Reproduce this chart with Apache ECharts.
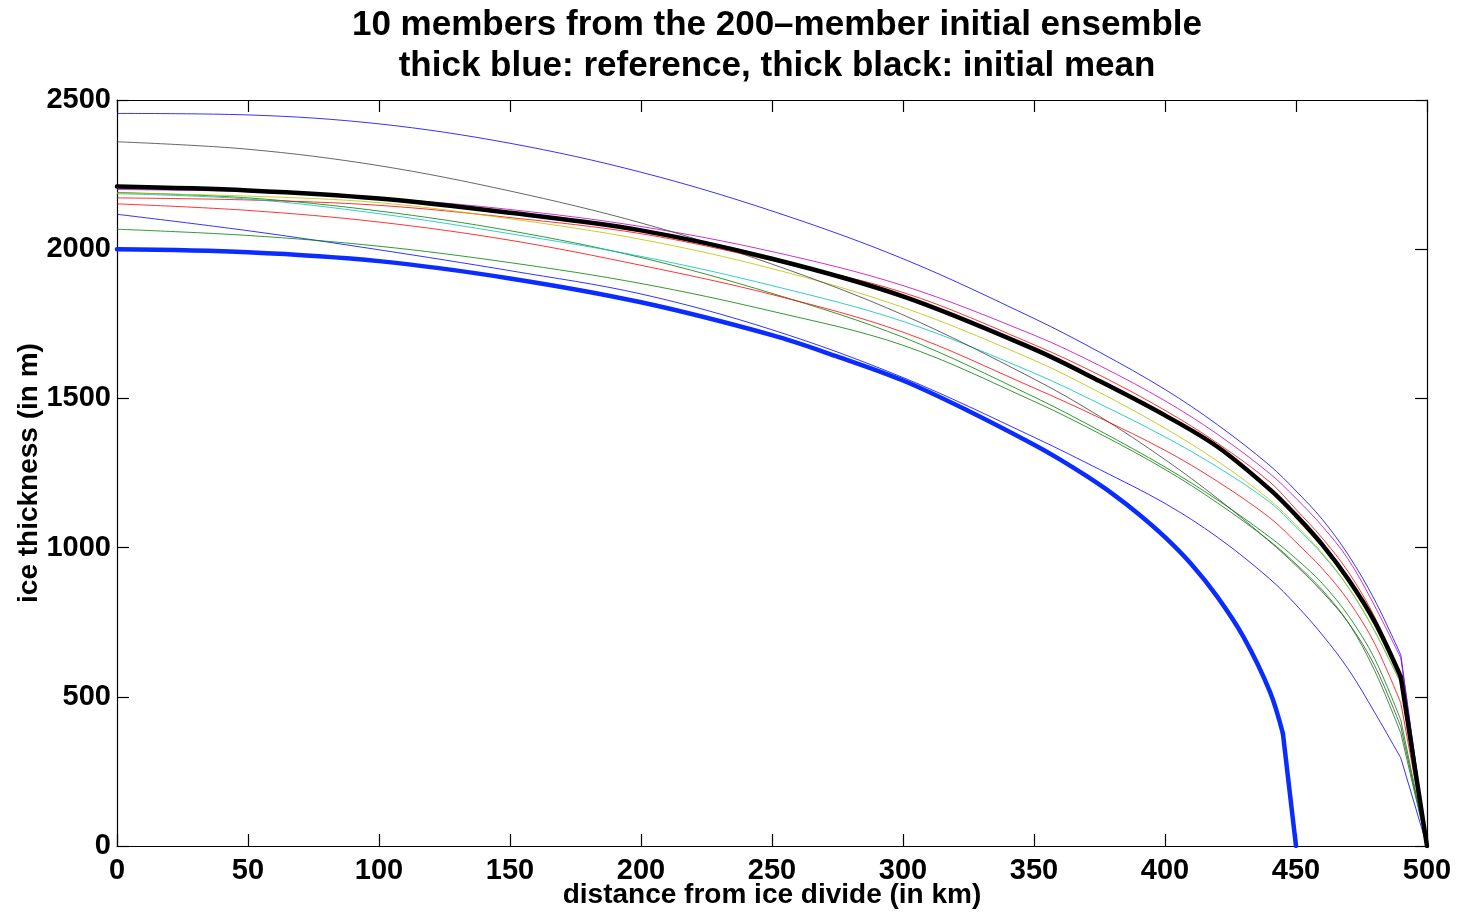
<!DOCTYPE html>
<html>
<head>
<meta charset="utf-8">
<script src="https://cdn.jsdelivr.net/npm/echarts@6/dist/echarts.min.js"></script>
<style>
  html, body { margin: 0; padding: 0; background: #fff; }
  #chart { width: 1458px; height: 912px; }
</style>
</head>
<body>
<div id="chart"></div>
<script>
// Distance from the ice divide (km) at which each ensemble member is sampled
const memberKm = [0, 50, 100, 150, 200, 250, 300, 350, 375, 400, 420, 440, 450, 460, 470, 480, 490, 500];

// Ice thickness (m) of the ten ensemble members
const memberBlue1    = [2455, 2450, 2420, 2355, 2258, 2128, 1968, 1768, 1655, 1530, 1412, 1275, 1190, 1095, 975, 825, 640, 0];
const memberGreen1   = [2190, 2172, 2128, 2062, 1972, 1852, 1705, 1505, 1392, 1270, 1160, 1035, 963, 880, 772, 628, 422, 0];
const memberRed1     = [2172, 2165, 2147, 2106, 2052, 1962, 1855, 1680, 1578, 1460, 1350, 1220, 1128, 1032, 918, 768, 572, 0];
const memberCyan     = [2186, 2168, 2119, 2052, 1976, 1878, 1758, 1585, 1482, 1371, 1270, 1152, 1068, 978, 866, 720, 545, 0];
const memberMagenta  = [2200, 2193, 2172, 2133, 2076, 1992, 1878, 1712, 1610, 1492, 1380, 1248, 1165, 1072, 960, 805, 630, 0];
const memberYellow   = [2188, 2178, 2156, 2102, 2033, 1935, 1805, 1628, 1520, 1400, 1290, 1160, 1075, 982, 868, 722, 545, 0];
const memberGray     = [2360, 2335, 2280, 2195, 2088, 1950, 1780, 1565, 1440, 1295, 1165, 1020, 940, 852, 748, 605, 400, 0];
const memberBlue2    = [2117, 2062, 1998, 1928, 1850, 1730, 1570, 1370, 1262, 1148, 1035, 895, 808, 708, 592, 448, 295, 0];
const memberGreen2   = [2067, 2046, 2010, 1955, 1885, 1792, 1678, 1490, 1382, 1262, 1150, 1022, 945, 858, 748, 588, 378, 0];
const memberRed2     = [2152, 2130, 2091, 2030, 1946, 1848, 1722, 1535, 1435, 1326, 1222, 1100, 1018, 930, 822, 679, 479, 0];

// Initial ensemble mean (m)
const meanThickness  = [2210, 2197, 2170, 2122, 2063, 1968, 1842, 1665, 1558, 1443, 1338, 1195, 1108, 1010, 893, 752, 567, 0];

// Reference profile, sampled on its own distances (km) and thickness (m)
const referenceKm        = [0, 50, 100, 150, 200, 250, 275, 300, 325, 350, 360, 370, 380, 390, 400, 410, 420, 430, 440, 445, 450];
const referenceThickness = [2000, 1990, 1960, 1902, 1822, 1712, 1640, 1560, 1458, 1345, 1295, 1240, 1180, 1112, 1035, 945, 835, 700, 518, 377, 0];

// Axis ticks
const xTicks = [0, 50, 100, 150, 200, 250, 300, 350, 400, 450, 500];
const yTicks = [0, 500, 1000, 1500, 2000, 2500];

const titleLines = ['10 members from the 200\u2013member initial ensemble', 'thick blue: reference, thick black: initial mean'];

const members = [
  { vals: memberBlue1,   color: '#0000ff' },
  { vals: memberGreen1,  color: '#008000' },
  { vals: memberRed1,    color: '#ff0000' },
  { vals: memberCyan,    color: '#00bfbf' },
  { vals: memberMagenta, color: '#bf00bf' },
  { vals: memberYellow,  color: '#bfbf00' },
  { vals: memberGray,    color: '#404040' },
  { vals: memberBlue2,   color: '#0000ff' },
  { vals: memberGreen2,  color: '#008000' },
  { vals: memberRed2,    color: '#ff0000' }
];

const FONT = '"Liberation Sans", Arial, Helvetica, sans-serif';

// Plot box in pixels
const GRID = { left: 117, right: 31, top: 100, bottom: 66 };
const PLOT_CENTER_X = GRID.left + (1458 - GRID.left - GRID.right) / 2;

// Each profile is drawn as a smooth body up to its last interior sample,
// followed by a straight final segment down to the margin (zero thickness).
function profileSeries(xs, ys, lineStyle, z) {
  const pts = xs.map((x, i) => [x, ys[i]]);
  const k = pts.length - 2;
  const common = { type: 'line', symbol: 'none', showSymbol: false, silent: true, z: z, lineStyle: lineStyle };
  return [
    Object.assign({}, common, { data: pts.slice(0, k + 1), smooth: 0.35 }),
    Object.assign({}, common, { data: pts.slice(k) })
  ];
}

let series = [];
members.forEach(m => {
  series = series.concat(profileSeries(memberKm, m.vals, { color: m.color, width: 1, opacity: 0.8 }, 2));
});
series = series.concat(profileSeries(referenceKm, referenceThickness,
  { color: '#0a2cff', width: 4.5, cap: 'round', join: 'round' }, 3));
series = series.concat(profileSeries(memberKm, meanThickness,
  { color: '#000000', width: 4.5, cap: 'round', join: 'round' }, 4));

const axisCommon = {
  axisLine: { show: true, onZero: false, lineStyle: { color: '#000', width: 1.2 } },
  axisTick: { show: true, inside: true, length: 12, lineStyle: { color: '#000', width: 1.2 } },
  splitLine: { show: false }
};

const labelStyle = { color: '#000', fontFamily: FONT, fontWeight: 'bold', fontSize: 29, formatter: v => String(v) };
const nameStyle = { color: '#000', fontFamily: FONT, fontWeight: 'bold', fontSize: 28 };

const xBase = { type: 'value', min: xTicks[0], max: xTicks[xTicks.length - 1], interval: xTicks[1] - xTicks[0] };
const yBase = { type: 'value', min: yTicks[0], max: yTicks[yTicks.length - 1], interval: yTicks[1] - yTicks[0] };

const chart = echarts.init(document.getElementById('chart'), null, { renderer: 'canvas' });
chart.setOption({
  animation: false,
  backgroundColor: '#ffffff',
  title: {
    text: titleLines.join('\n'),
    left: PLOT_CENTER_X,
    textAlign: 'center',
    top: 0,
    textStyle: { color: '#000', fontFamily: FONT, fontWeight: 'bold', fontSize: 35, lineHeight: 41 }
  },
  grid: Object.assign({ containLabel: false, outerBoundsMode: 'none' }, GRID),
  xAxis: [
    Object.assign({}, xBase, axisCommon, {
      position: 'bottom',
      name: 'distance from ice divide (in km)',
      nameLocation: 'middle',
      nameMoveOverlap: false,
      nameGap: 35,
      nameTextStyle: nameStyle,
      axisLabel: Object.assign({ margin: 10 }, labelStyle)
    }),
    Object.assign({}, xBase, axisCommon, {
      position: 'top',
      axisLabel: { show: false }
    })
  ],
  yAxis: [
    Object.assign({}, yBase, axisCommon, {
      position: 'left',
      name: 'ice thickness (in m)',
      nameLocation: 'middle',
      nameMoveOverlap: false,
      nameGap: 74,
      nameTextStyle: nameStyle,
      axisLabel: Object.assign({ margin: 6 }, labelStyle)
    }),
    Object.assign({}, yBase, axisCommon, {
      position: 'right',
      axisLabel: { show: false }
    })
  ],
  series: series
});
</script>
</body>
</html>
